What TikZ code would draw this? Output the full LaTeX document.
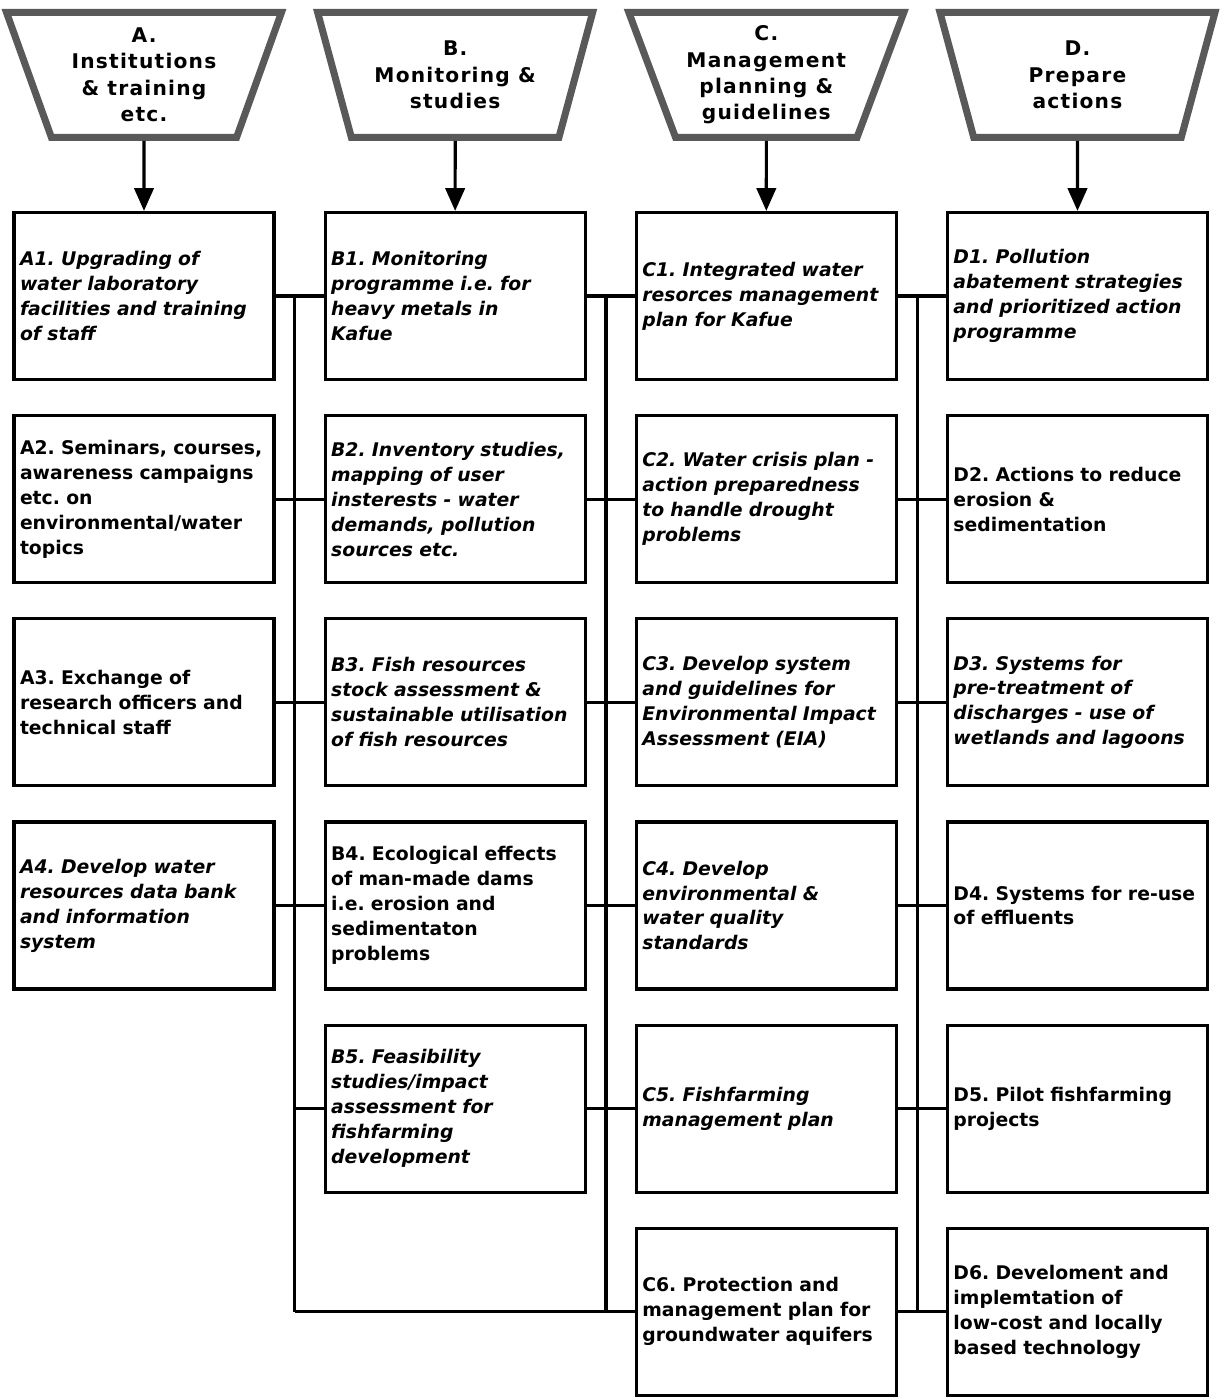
\documentclass[tikz,border=0pt]{standalone}
\usepackage{fontspec}
\setmainfont{DejaVu Sans}
\usepackage{tikz}
\usetikzlibrary{positioning,calc,shapes.geometric,arrows.meta}

\frenchspacing
\newcommand{\boxfont}{\fontsize{10.7}{14.2}\selectfont\bfseries}
\newcommand{\headfont}{\fontsize{11.5}{15}\selectfont\bfseries\addfontfeature{LetterSpace=6}}

\tikzset{
  box/.style={draw, line width=1.8pt, minimum width=5.2cm, minimum height=3.34cm,
    text width=4.96cm, inner xsep=0.12cm, align=left, font=\boxfont},
  itbox/.style={box, font=\boxfont\itshape},
  head/.style={trapezium, shape border rotate=180, trapezium angle=67,
    trapezium stretches body, minimum width=5.5cm, minimum height=2.5cm,
    draw=black!65, line width=4pt, align=center, font=\headfont},
  link/.style={line width=1.8pt},
  down/.style={line width=1.8pt, -{Triangle[width=11pt,length=13pt]}}
}

\begin{document}
\begin{tikzpicture}
  \useasboundingbox (0,0) rectangle (24.54,-27.96);

  % nodes
  \node[itbox] (a1) at (2.88,-5.92) {A1. Upgrading of\\water laboratory\\facilities and training\\of staff};
  \node[itbox, right=0.96cm of a1] (b1) {B1. Monitoring\\programme i.e. for\\heavy metals in\\Kafue};
  \node[itbox, right=0.96cm of b1] (c1) {C1. Integrated water\\resorces management\\plan for Kafue};
  \node[itbox, right=0.96cm of c1] (d1) {D1. Pollution\\abatement strategies\\and prioritized action\\programme};

  \node[box, below=0.66cm of a1] (a2) {A2. Seminars, courses,\\awareness campaigns\\etc. on\\environmental/water\\topics};
  \node[itbox, below=0.66cm of b1] (b2) {B2. Inventory studies,\\mapping of user\\insterests - water\\demands, pollution\\sources etc.};
  \node[itbox, below=0.66cm of c1] (c2) {C2. Water crisis plan -\\action preparedness\\to handle drought\\problems};
  \node[box, below=0.66cm of d1] (d2) {D2. Actions to reduce\\erosion \&\\sedimentation};

  \node[box, below=0.66cm of a2] (a3) {A3. Exchange of\\research officers and\\technical staff};
  \node[itbox, below=0.66cm of b2] (b3) {B3. Fish resources\\stock assessment \&\\sustainable utilisation\\of fish resources};
  \node[itbox, below=0.66cm of c2] (c3) {C3. Develop system\\and guidelines for\\Environmental Impact\\Assessment (EIA)};
  \node[itbox, below=0.66cm of d2] (d3) {D3. Systems for\\pre-treatment of\\discharges - use of\\wetlands and lagoons};

  \node[itbox, below=0.66cm of a3] (a4) {A4. Develop water\\resources data bank\\and information\\system};
  \node[box, below=0.66cm of b3] (b4) {B4. Ecological effects\\of man-made dams\\i.e. erosion and\\sedimentaton\\problems};
  \node[itbox, below=0.66cm of c3] (c4) {C4. Develop\\environmental \&\\water quality\\standards};
  \node[box, below=0.66cm of d3] (d4) {D4. Systems for re-use\\of effluents};

  \node[itbox, below=0.66cm of b4] (b5) {B5. Feasibility\\studies/impact\\assessment for\\fishfarming\\development};
  \node[itbox, below=0.66cm of c4] (c5) {C5. Fishfarming\\management plan};
  \node[box, below=0.66cm of d4] (d5) {D5. Pilot fishfarming\\projects};

  \node[box, below=0.66cm of c5] (c6) {C6. Protection and\\management plan for\\groundwater aquifers};
  \node[box, below=0.66cm of d5] (d6) {D6. Develoment and\\implemtation of\\low-cost and locally\\based technology};

  % headings
  \node[head, above=1.4cm of a1] (ha) {A.\\Institutions\\\& training\\etc.};
  \node[head, above=1.4cm of b1] (hb) {B.\\Monitoring \&\\studies};
  \node[head, above=1.4cm of c1] (hc) {C.\\Management\\planning \&\\guidelines};
  \node[head, above=1.4cm of d1] (hd) {D.\\Prepare\\actions};

  % bus lines
  \coordinate (busa) at ($(a1.east)!0.4!(b1.west)$);
  \coordinate (busb) at ($(b1.east)!0.4!(c1.west)$);
  \coordinate (busc) at ($(c1.east)!0.4!(d1.west)$);

  % edges
  \draw[down] (ha) -- (a1);
  \draw[down] (hb) -- (b1);
  \draw[down] (hc) -- (c1);
  \draw[down] (hd) -- (d1);

  \draw[link] (a1.east) -- (b1.west);
  \draw[link] (b1.east) -- (c1.west);
  \draw[link] (c1.east) -- (d1.west);
  \draw[link] (a2.east) -- (b2.west);
  \draw[link] (b2.east) -- (c2.west);
  \draw[link] (c2.east) -- (d2.west);
  \draw[link] (a3.east) -- (b3.west);
  \draw[link] (b3.east) -- (c3.west);
  \draw[link] (c3.east) -- (d3.west);
  \draw[link] (a4.east) -- (b4.west);
  \draw[link] (b4.east) -- (c4.west);
  \draw[link] (c4.east) -- (d4.west);
  \draw[link] (busa |- b5.west) -- (b5.west);
  \draw[link] (b5.east) -- (c5.west);
  \draw[link] (c5.east) -- (d5.west);
  \draw[link] (busa |- c6.west) -- (c6.west);
  \draw[link] (c6.east) -- (d6.west);

  \draw[link] (busa) -- (busa |- c6.west);
  \draw[link] (busb) -- (busb |- c6.west);
  \draw[link] (busc) -- (busc |- c6.east);
\end{tikzpicture}
\end{document}
